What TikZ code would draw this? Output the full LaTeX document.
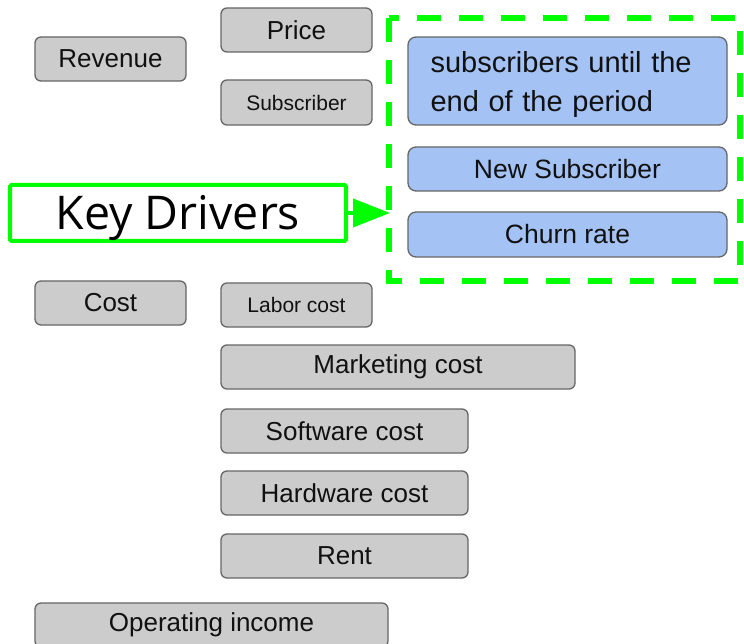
\documentclass[tikz,border=0pt]{standalone}
\usepackage{fontspec}
\setmainfont{Liberation Sans}
\newfontfamily\kdfont{Open Sans}
\usetikzlibrary{arrows.meta}
\definecolor{boxgray}{HTML}{CCCCCC}
\definecolor{boxblue}{HTML}{A4C2F4}
\definecolor{edgegray}{HTML}{666666}
\definecolor{kgreen}{HTML}{00FF00}
\definecolor{txt}{HTML}{111111}
\tikzset{
  graybox/.style={draw=edgegray, line width=1.3pt, fill=boxgray, rounded corners=6pt,
    minimum height=44pt, inner sep=0pt, text=txt, font=\fontsize{26}{31}\selectfont},
  smalltext/.style={font=\fontsize{21}{25}\selectfont},
  bluebox/.style={draw=edgegray, line width=1.3pt, fill=boxblue, rounded corners=8pt,
    minimum width=319pt, minimum height=44pt, inner sep=0pt, text=txt, font=\fontsize{26.5}{31}\selectfont},
  kgbox/.style={draw=kgreen, line width=4pt, rounded corners=1.5pt, fill=white,
    minimum width=336pt, minimum height=56pt, inner sep=0pt, text height=33pt, text depth=0pt,
    font=\kdfont\fontsize{46.5}{52}\selectfont},
}
\begin{document}
\begin{tikzpicture}[x=1pt,y=-1pt]
\useasboundingbox (0,0) rectangle (744,644);
% dashed frame
\draw[kgreen, line width=5.5pt, dash pattern=on 24pt off 18pt] (389,18) rectangle (740,281);
\coordinate (frameleft) at (390,213);
% revenue side
\node[graybox, minimum width=151pt] (rev) at (110.5,59) {Revenue};
\node[graybox, minimum width=151pt] (price) at (296.5,30) {Price};
\node[graybox, smalltext, minimum width=151pt, minimum height=45pt] (sub) at (296.5,102.5) {Subscriber};
% blue boxes
\node[bluebox, minimum height=88pt] (eop) at (567.5,81) {};
\node[text width=296pt, inner sep=0pt, align=left, anchor=west, text=txt,
  font=\fontsize{29}{39}\selectfont] (eoptext) at ([xshift=23pt,yshift=-4pt]eop.west)
  {subscribers until the\\end of the period};
\node[bluebox] (newsub) at (567.5,169) {New Subscriber};
\node[bluebox, minimum height=45pt] (churn) at (567.5,234.5) {Churn rate};
% key drivers
\node[kgbox] (kd) at (178,213) {Key Drivers};
\draw[kgreen, line width=4pt, -{Triangle[length=37pt,width=28pt]}] (kd.east) -- (frameleft);
% cost side
\node[graybox, minimum width=151pt] (cost) at (110.5,303) {Cost};
\node[graybox, smalltext, minimum width=151pt] (labor) at (296.5,305) {Labor cost};
\node[graybox, minimum width=354pt] (mkt) at (398,367) {Marketing cost};
\node[graybox, minimum width=247pt] (sw) at (344.5,431) {Software cost};
\node[graybox, minimum width=247pt] (hw) at (344.5,493) {Hardware cost};
\node[graybox, minimum width=247pt] (rent) at (344.5,556) {Rent};
\node[graybox, minimum width=353pt] (opinc) at (211.5,625) {Operating income};
\end{tikzpicture}
\end{document}
